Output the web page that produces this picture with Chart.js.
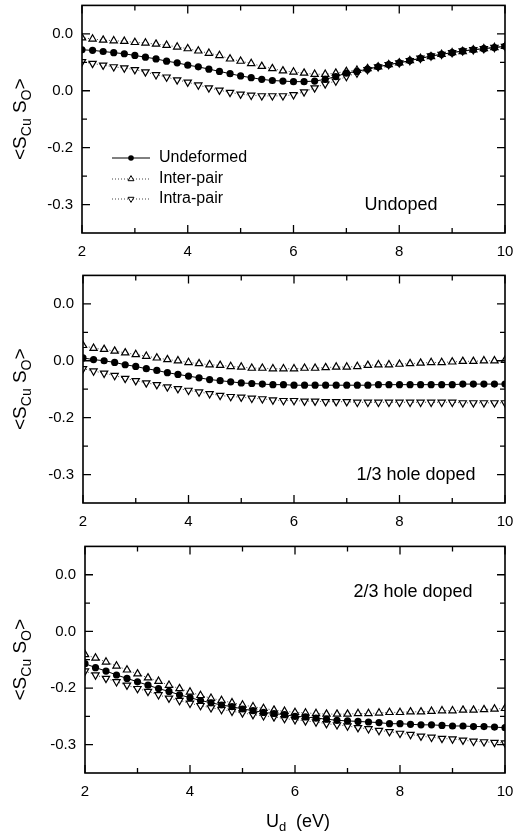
<!DOCTYPE html>
<html>
<head>
<meta charset="utf-8">
<script src="https://cdn.jsdelivr.net/npm/chart.js@4.4.0/dist/chart.umd.min.js"></script>
<style>
    html, body { margin: 0; padding: 0; background: #fff; }
    .panel { position: absolute; left: 0; width: 517px; }
</style>
</head>
<body>
<div class="panel" style="top:0px"><canvas id="undopedChart" width="517" height="270"></canvas></div>
<div class="panel" style="top:270px"><canvas id="oneThirdChart" width="517" height="270"></canvas></div>
<div class="panel" style="top:541px"><canvas id="twoThirdChart" width="517" height="295"></canvas></div>
<script>
// U_d values (eV)
const udValues = [2.0, 2.2, 2.4, 2.6, 2.8, 3.0, 3.2, 3.4, 3.6, 3.8, 4.0, 4.2, 4.4, 4.6, 4.8, 5.0, 5.2, 5.4, 5.6, 5.8,
    6.0, 6.2, 6.4, 6.6, 6.8, 7.0, 7.2, 7.4, 7.6, 7.8, 8.0, 8.2, 8.4, 8.6, 8.8, 9.0, 9.2, 9.4, 9.6, 9.8, 10.0];

const xTickValues = [2, 4, 6, 8, 10];
const xMinorValues = [3, 5, 7, 9];
const yTickValues = [0.0, -0.1, -0.2, -0.3];
const yTickLabels = ['0.0', '0.0', '-0.2', '-0.3'];
const yMinorValues = [-0.05, -0.15, -0.25];

const seriesNames = ['Undeformed', 'Inter-pair', 'Intra-pair'];
const panelLabels = ['Undoped', '1/3 hole doped', '2/3 hole doped'];

// Undoped
const undopedUndeformed = [-0.028, -0.029, -0.031, -0.033, -0.035, -0.038, -0.041, -0.044, -0.048, -0.051, -0.055,
    -0.058, -0.062, -0.066, -0.070, -0.074, -0.077, -0.080, -0.082, -0.083, -0.084, -0.084, -0.083, -0.080, -0.075,
    -0.069, -0.066, -0.062, -0.058, -0.054, -0.051, -0.047, -0.043, -0.039, -0.036, -0.033, -0.030, -0.028, -0.026,
    -0.024, -0.022];
const undopedInter = [-0.007, -0.009, -0.011, -0.012, -0.013, -0.015, -0.016, -0.018, -0.020, -0.023, -0.026,
    -0.030, -0.034, -0.038, -0.044, -0.048, -0.052, -0.057, -0.061, -0.065, -0.067, -0.069, -0.071, -0.071, -0.069,
    -0.066, -0.064, -0.061, -0.058, -0.054, -0.051, -0.047, -0.043, -0.040, -0.036, -0.033, -0.031, -0.028, -0.026,
    -0.024, -0.022];
const undopedIntra = [-0.049, -0.052, -0.055, -0.058, -0.060, -0.063, -0.067, -0.072, -0.076, -0.081, -0.085,
    -0.090, -0.095, -0.099, -0.103, -0.106, -0.108, -0.109, -0.109, -0.109, -0.107, -0.102, -0.095, -0.088, -0.083,
    -0.075, -0.069, -0.063, -0.058, -0.054, -0.051, -0.047, -0.043, -0.039, -0.036, -0.033, -0.030, -0.028, -0.026,
    -0.024, -0.022];

// 1/3 hole doped
const oneThirdUndeformed = [-0.095, -0.098, -0.100, -0.103, -0.107, -0.110, -0.114, -0.117, -0.121, -0.124, -0.127,
    -0.130, -0.133, -0.135, -0.137, -0.139, -0.140, -0.141, -0.142, -0.142, -0.143, -0.143, -0.143, -0.143, -0.143,
    -0.143, -0.143, -0.143, -0.142, -0.142, -0.142, -0.142, -0.142, -0.142, -0.142, -0.142, -0.141, -0.141, -0.141,
    -0.141, -0.141];
const oneThirdInter = [-0.073, -0.078, -0.080, -0.083, -0.086, -0.089, -0.092, -0.095, -0.098, -0.100, -0.103,
    -0.105, -0.107, -0.108, -0.110, -0.111, -0.113, -0.113, -0.114, -0.114, -0.114, -0.113, -0.113, -0.112, -0.111,
    -0.111, -0.110, -0.108, -0.107, -0.107, -0.106, -0.105, -0.104, -0.103, -0.103, -0.102, -0.101, -0.101, -0.100,
    -0.100, -0.099];
const oneThirdIntra = [-0.114, -0.118, -0.122, -0.126, -0.131, -0.135, -0.139, -0.142, -0.146, -0.149, -0.152,
    -0.155, -0.158, -0.161, -0.163, -0.164, -0.166, -0.167, -0.169, -0.170, -0.170, -0.171, -0.171, -0.172, -0.172,
    -0.172, -0.173, -0.173, -0.173, -0.173, -0.173, -0.173, -0.173, -0.173, -0.173, -0.173, -0.174, -0.174, -0.174,
    -0.174, -0.174];

// 2/3 hole doped
const twoThirdUndeformed = [-0.157, -0.164, -0.170, -0.177, -0.183, -0.189, -0.195, -0.201, -0.206, -0.212, -0.217,
    -0.222, -0.226, -0.230, -0.233, -0.237, -0.240, -0.243, -0.245, -0.247, -0.250, -0.251, -0.253, -0.255, -0.257,
    -0.258, -0.259, -0.260, -0.261, -0.263, -0.263, -0.264, -0.265, -0.265, -0.266, -0.267, -0.267, -0.268, -0.268,
    -0.269, -0.270];
const twoThirdInter = [-0.141, -0.147, -0.154, -0.161, -0.168, -0.175, -0.182, -0.188, -0.195, -0.201, -0.207,
    -0.213, -0.218, -0.222, -0.226, -0.230, -0.233, -0.236, -0.239, -0.241, -0.243, -0.244, -0.245, -0.246, -0.246,
    -0.246, -0.245, -0.245, -0.244, -0.243, -0.243, -0.242, -0.242, -0.241, -0.240, -0.240, -0.239, -0.239, -0.238,
    -0.237, -0.236];
const twoThirdIntra = [-0.170, -0.177, -0.183, -0.189, -0.195, -0.201, -0.206, -0.212, -0.218, -0.222, -0.227,
    -0.231, -0.235, -0.238, -0.241, -0.244, -0.247, -0.249, -0.251, -0.254, -0.256, -0.258, -0.260, -0.263, -0.265,
    -0.267, -0.270, -0.272, -0.275, -0.277, -0.280, -0.282, -0.285, -0.287, -0.289, -0.290, -0.292, -0.294, -0.295,
    -0.296, -0.297];

const FONT = '"Liberation Sans", Arial, Helvetica, sans-serif';

// marker / line styles for the three series
const seriesStyles = [
    { borderDash: [], lineColor: '#000', pointStyle: 'circle', rotation: 0, radius: 3.6, fill: '#000', pointBorderWidth: 0 },
    { borderDash: [1, 2], lineColor: '#444', pointStyle: 'triangle', rotation: 0, radius: 4.2, fill: '#fff', pointBorderWidth: 1.2 },
    { borderDash: [1, 2], lineColor: '#444', pointStyle: 'triangle', rotation: 180, radius: 4.2, fill: '#fff', pointBorderWidth: 1.2 }
];

function makeDataset(name, values, style) {
    return {
        label: name,
        data: udValues.map((x, i) => ({ x: x, y: values[i] })),
        borderColor: style.lineColor,
        borderWidth: 1,
        borderDash: style.borderDash,
        pointStyle: style.pointStyle,
        rotation: style.rotation,
        pointRadius: style.radius,
        pointBackgroundColor: style.fill,
        pointBorderColor: '#000',
        pointBorderWidth: style.pointBorderWidth,
        tension: 0
    };
}

// draws text made of normal and subscript pieces, centred on (0,0)
function drawSubText(ctx, parts, size) {
    const subSize = Math.round(size * 0.72);
    let total = 0;
    parts.forEach(p => {
        ctx.font = `${p.sub ? subSize : size}px ${FONT}`;
        p.w = ctx.measureText(p.t).width;
        total += p.w;
    });
    let x = -total / 2;
    parts.forEach(p => {
        ctx.font = `${p.sub ? subSize : size}px ${FONT}`;
        ctx.fillText(p.t, x, p.sub ? size * 0.3 : 0);
        x += p.w;
    });
}

const panelDeco = {
    id: 'panelDeco',
    afterDraw(chart, args, opts) {
        const ctx = chart.ctx;
        const { left, right, top, bottom } = chart.chartArea;
        const xs = chart.scales.x;
        const ys = chart.scales.y;
        ctx.save();
        ctx.strokeStyle = '#000';
        ctx.fillStyle = '#000';

        // frame
        ctx.lineWidth = 1.6;
        ctx.strokeRect(left, top, right - left, bottom - top);

        // inward ticks on all four sides
        ctx.lineWidth = 1.3;
        ctx.beginPath();
        const tickX = (vals, len) => vals.forEach(v => {
            const px = xs.getPixelForValue(v);
            ctx.moveTo(px, bottom); ctx.lineTo(px, bottom - len);
            ctx.moveTo(px, top); ctx.lineTo(px, top + len);
        });
        const tickY = (vals, len) => vals.forEach(v => {
            const py = ys.getPixelForValue(v);
            ctx.moveTo(left, py); ctx.lineTo(left + len, py);
            ctx.moveTo(right, py); ctx.lineTo(right - len, py);
        });
        tickX(xTickValues, 8);
        tickX(xMinorValues, 5);
        tickY(yTickValues, 8);
        tickY(yMinorValues, 5);
        ctx.stroke();

        // y axis title <S_Cu S_O>
        ctx.save();
        ctx.translate(21, (top + bottom) / 2);
        ctx.rotate(-Math.PI / 2);
        ctx.textBaseline = 'middle';
        ctx.textAlign = 'left';
        drawSubText(ctx, [
            { t: '<S', sub: false }, { t: 'Cu', sub: true }, { t: ' S', sub: false },
            { t: 'O', sub: true }, { t: '>', sub: false }
        ], 19);
        ctx.restore();

        // panel label
        ctx.font = `18px ${FONT}`;
        ctx.textAlign = 'center';
        ctx.textBaseline = 'middle';
        ctx.fillText(opts.label, opts.labelX, opts.labelY);

        // x axis title on the last panel
        if (opts.xTitle) {
            ctx.save();
            ctx.translate(298, opts.xTitleY);
            ctx.textBaseline = 'middle';
            ctx.textAlign = 'left';
            drawSubText(ctx, [{ t: 'U', sub: false }, { t: 'd', sub: true }, { t: '  (eV)', sub: false }], 18);
            ctx.restore();
        }

        // legend
        if (opts.legend) {
            const rowY = [158, 179, 199];
            seriesStyles.forEach((s, i) => {
                const y = rowY[i];
                ctx.lineWidth = 1;
                ctx.strokeStyle = s.lineColor;
                ctx.setLineDash(s.borderDash);
                ctx.beginPath();
                ctx.moveTo(112, y);
                ctx.lineTo(150, y);
                ctx.stroke();
                ctx.setLineDash([]);
                ctx.strokeStyle = '#000';
                ctx.fillStyle = s.fill;
                Chart.helpers.drawPoint(ctx, {
                    pointStyle: s.pointStyle,
                    rotation: s.rotation,
                    radius: s.radius - 0.8,
                    borderWidth: s.pointBorderWidth || 0
                }, 131, y);
                ctx.fillStyle = '#000';
                ctx.font = `16px ${FONT}`;
                ctx.textAlign = 'left';
                ctx.textBaseline = 'middle';
                ctx.fillText(seriesNames[i], 159, y);
            });
        }
        ctx.restore();
    }
};

function buildPanel(canvasId, undeformed, inter, intra, deco, yWidth, xHeight) {
    const canvas = document.getElementById(canvasId);
    return new Chart(canvas, {
        type: 'line',
        data: {
            datasets: [
                makeDataset(seriesNames[0], undeformed, seriesStyles[0]),
                makeDataset(seriesNames[1], inter, seriesStyles[1]),
                makeDataset(seriesNames[2], intra, seriesStyles[2])
            ]
        },
        options: {
            responsive: false,
            animation: false,
            layout: { padding: { top: 5, right: 12, left: 0, bottom: 0 } },
            plugins: {
                legend: { display: false },
                tooltip: { enabled: false },
                panelDeco: deco
            },
            scales: {
                x: {
                    type: 'linear',
                    min: 2,
                    max: 10,
                    grid: { display: false, drawTicks: false },
                    border: { display: false },
                    afterBuildTicks: axis => { axis.ticks = xTickValues.map(v => ({ value: v })); },
                    afterFit: axis => {
                        axis.height = xHeight;
                        axis.paddingLeft = 0;
                        axis.paddingRight = 0;
                    },
                    ticks: {
                        padding: 10,
                        color: '#000',
                        font: { family: FONT, size: 15 },
                        callback: v => String(v)
                    }
                },
                y: {
                    type: 'linear',
                    min: -0.35,
                    max: 0.05,
                    grid: { display: false, drawTicks: false },
                    border: { display: false },
                    afterBuildTicks: axis => { axis.ticks = yTickValues.map(v => ({ value: v })); },
                    afterFit: axis => {
                        axis.width = yWidth;
                        axis.paddingTop = 0;
                        axis.paddingBottom = 0;
                    },
                    ticks: {
                        padding: 9,
                        color: '#000',
                        font: { family: FONT, size: 15 },
                        callback: (v, i) => yTickLabels[i]
                    }
                }
            }
        },
        plugins: [panelDeco]
    });
}

buildPanel('undopedChart', undopedUndeformed, undopedInter, undopedIntra,
    { label: panelLabels[0], labelX: 401, labelY: 205, legend: true }, 82, 37);
buildPanel('oneThirdChart', oneThirdUndeformed, oneThirdInter, oneThirdIntra,
    { label: panelLabels[1], labelX: 416, labelY: 205 }, 83, 37);
buildPanel('twoThirdChart', twoThirdUndeformed, twoThirdInter, twoThirdIntra,
    { label: panelLabels[2], labelX: 413, labelY: 51, xTitle: true, xTitleY: 281 }, 85, 63);
</script>
</body>
</html>
